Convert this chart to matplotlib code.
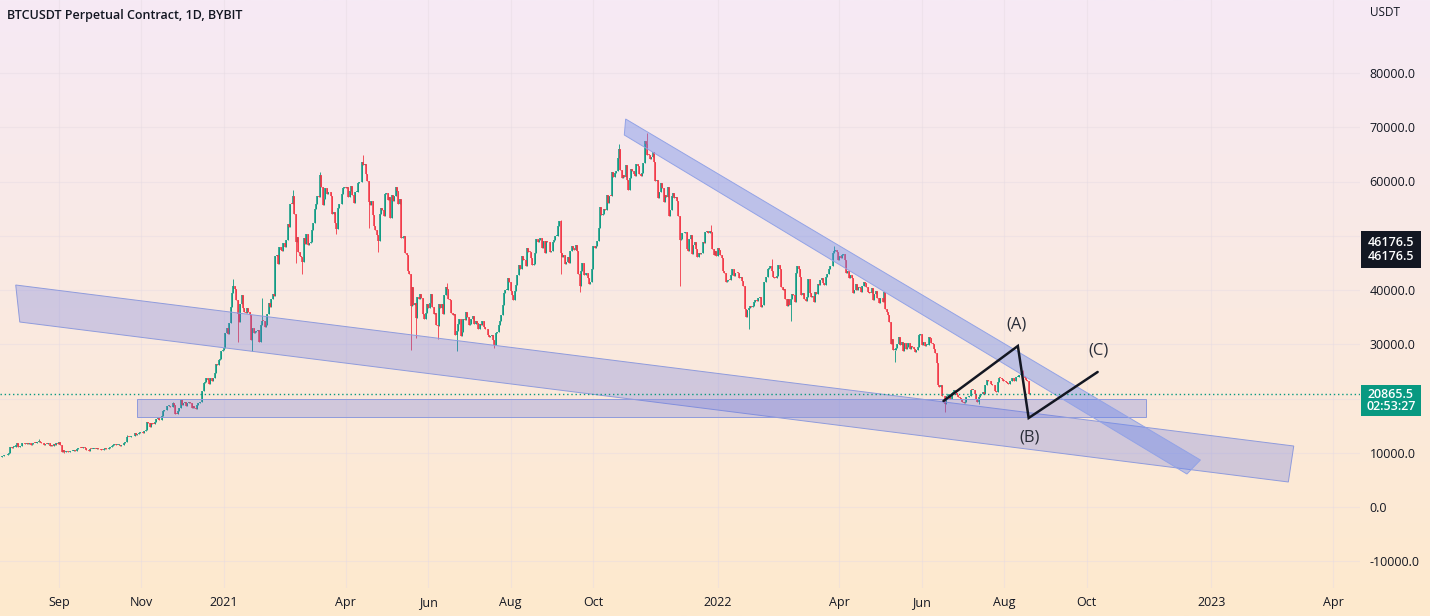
import numpy as np
import pandas as pd
import matplotlib
matplotlib.use("Agg")
import matplotlib.pyplot as plt
import matplotlib.dates as mdates
from matplotlib.patches import Polygon, Rectangle

plt.rcParams['font.family'] = ['Open Sans', 'DejaVu Sans']

# daily closes, thousands of USDT
c2020_07 = [9.21, 9.16, 9.39, 9.54, 9.61, 9.55, 9.71, 9.93, 11.03, 10.91, 11.10, 11.11, 11.35]
c2020_08 = [11.80, 11.07, 11.23, 11.19, 11.74, 11.76, 11.60, 11.75, 11.68, 11.88,
            11.41, 11.58, 11.78, 11.77, 11.87, 11.91, 12.25, 11.99, 11.74, 11.86,
            11.52, 11.66, 11.65, 11.75, 11.32, 11.46, 11.32, 11.54, 11.51, 11.71, 11.68]
c2020_09 = [11.92, 11.40, 10.17, 10.47, 10.17, 10.25, 10.37, 10.13, 10.24, 10.36,
            10.40, 10.44, 10.33, 10.68, 10.79, 10.95, 10.94, 10.93, 11.08, 10.92,
            10.42, 10.54, 10.24, 10.74, 10.69, 10.73, 10.77, 10.70, 10.84, 10.78]
c2020_10 = [10.62, 10.58, 10.55, 10.67, 10.79, 10.60, 10.67, 10.92, 11.06, 11.30,
            11.38, 11.54, 11.43, 11.43, 11.51, 11.32, 11.37, 11.50, 11.75, 11.92,
            12.82, 12.97, 12.93, 13.12, 13.04, 13.07, 13.65, 13.27, 13.46, 13.56, 13.80]
c2020_11 = [13.74, 13.55, 14.03, 14.15, 15.59, 15.57, 14.83, 15.48, 15.33, 15.30,
            15.70, 16.28, 16.33, 16.07, 15.96, 16.72, 17.67, 17.80, 17.82, 18.68,
            18.69, 18.42, 18.37, 19.16, 18.72, 17.15, 17.14, 17.72, 18.18, 19.70]
c2020_12 = [18.79, 19.22, 19.44, 18.65, 19.15, 19.36, 19.17, 18.32, 18.55, 18.26,
            18.04, 18.81, 19.17, 19.27, 19.43, 21.36, 22.80, 23.11, 23.82, 23.46,
            22.72, 23.82, 23.24, 23.73, 24.71, 26.44, 26.25, 27.04, 27.36, 28.84, 29.00]
c2021_01 = [29.37, 32.13, 33.00, 31.97, 33.98, 36.82, 39.37, 40.67, 40.24, 38.24,
            35.54, 34.01, 37.39, 39.15, 36.77, 36.01, 35.79, 36.63, 35.91, 35.47,
            30.83, 33.01, 32.08, 32.26, 32.37, 32.57, 30.43, 33.47, 34.32, 34.27, 33.11]
c2021_02 = [33.52, 35.51, 37.62, 36.94, 38.29, 39.26, 38.90, 46.20, 46.48, 44.84,
            47.97, 47.41, 47.19, 48.58, 47.91, 49.13, 52.12, 51.55, 55.91, 55.84,
            57.41, 54.09, 48.89, 49.68, 47.06, 46.28, 46.11, 45.14]
c2021_03 = [49.59, 48.44, 50.35, 48.37, 48.75, 48.88, 50.97, 52.38, 54.88, 55.85,
            57.33, 57.22, 61.19, 59.00, 55.64, 56.82, 58.87, 57.65, 58.03, 58.10,
            57.35, 54.08, 54.34, 52.30, 51.32, 55.03, 55.84, 55.78, 57.63, 58.73, 58.92]
c2021_04 = [58.73, 58.93, 57.06, 58.21, 59.12, 57.60, 56.00, 58.09, 58.09, 59.77,
            60.00, 59.86, 63.58, 62.96, 63.22, 61.40, 60.06, 56.21, 55.72, 56.47,
            53.91, 51.76, 51.09, 50.05, 49.00, 54.02, 55.03, 54.82, 53.56, 57.75]
c2021_05 = [57.83, 56.63, 57.21, 53.24, 57.47, 56.43, 57.38, 58.93, 58.28, 55.86,
            56.76, 49.50, 49.72, 49.88, 46.76, 46.46, 43.54, 42.91, 36.96, 40.56,
            37.30, 37.54, 34.77, 38.71, 38.39, 39.29, 38.56, 35.66, 34.61, 35.68, 37.34]
c2021_06 = [36.69, 37.58, 39.19, 36.85, 35.52, 35.80, 33.55, 33.40, 37.39, 36.69,
            37.34, 35.55, 39.02, 40.52, 40.14, 38.35, 38.09, 35.82, 35.48, 35.60,
            31.68, 32.51, 33.68, 34.66, 31.59, 32.28, 34.70, 34.49, 35.91, 35.04]
c2021_07 = [33.57, 33.80, 34.67, 35.29, 33.69, 34.22, 33.86, 32.88, 33.81, 33.52,
            34.26, 33.09, 32.73, 32.82, 31.78, 31.42, 31.52, 31.78, 30.82, 29.79,
            32.11, 32.31, 33.58, 34.29, 35.38, 37.27, 39.46, 40.01, 40.02, 42.24, 41.46]
c2021_08 = [39.85, 39.15, 38.15, 39.75, 40.87, 42.84, 44.61, 43.80, 46.28, 45.58,
            45.51, 44.43, 47.79, 47.08, 47.01, 45.92, 44.69, 44.74, 46.76, 49.34,
            48.87, 49.28, 49.51, 47.71, 48.99, 46.85, 49.07, 48.90, 48.81, 47.02, 47.13]
c2021_09 = [48.85, 49.29, 49.93, 49.94, 51.77, 52.66, 46.86, 46.07, 46.37, 44.85,
            45.17, 46.03, 44.95, 47.11, 48.14, 47.76, 47.30, 48.31, 47.26, 42.99,
            40.69, 43.57, 44.89, 42.84, 42.72, 43.21, 42.24, 41.03, 41.52, 43.79]
c2021_10 = [48.12, 47.71, 48.20, 49.11, 51.51, 55.36, 53.80, 53.97, 54.95, 54.66,
            57.47, 56.01, 57.37, 57.35, 61.67, 60.88, 61.53, 62.01, 64.28, 66.00,
            62.21, 60.69, 61.29, 60.86, 63.08, 60.33, 58.46, 60.59, 62.25, 61.88, 61.32]
c2021_11 = [61.00, 63.23, 62.94, 61.43, 61.00, 61.53, 63.33, 67.55, 66.97, 64.95,
            64.91, 64.16, 64.47, 65.47, 63.56, 60.09, 60.36, 56.94, 58.12, 59.70,
            58.73, 56.29, 57.57, 57.16, 58.96, 53.73, 54.74, 57.27, 57.81, 56.95]
c2021_12 = [57.18, 56.48, 53.60, 49.15, 49.40, 50.58, 50.47, 50.64, 47.59, 47.14,
            49.39, 50.05, 46.70, 48.34, 48.86, 47.63, 46.13, 46.83, 46.68, 46.91,
            48.93, 48.63, 50.78, 50.82, 50.43, 50.80, 50.64, 47.59, 46.46, 47.12, 46.22]
c2022_01 = [47.72, 47.29, 46.44, 45.83, 43.43, 43.08, 41.55, 41.67, 41.86, 41.82,
            42.74, 43.92, 42.59, 43.10, 43.18, 43.11, 42.25, 42.38, 41.69, 40.68,
            36.46, 35.03, 36.28, 36.65, 36.96, 36.84, 37.14, 37.71, 38.17, 37.92, 38.48]
c2022_02 = [38.74, 36.95, 37.15, 41.50, 41.44, 42.41, 43.84, 44.12, 44.34, 43.57,
            42.41, 42.24, 42.20, 42.59, 44.58, 43.96, 40.55, 40.03, 40.13, 38.39,
            37.02, 38.29, 37.29, 38.36, 39.25, 39.12, 37.71, 43.19]
c2022_03 = [44.42, 43.92, 42.45, 39.15, 39.40, 38.42, 37.99, 38.74, 41.98, 39.44,
            38.73, 38.81, 37.79, 39.67, 39.28, 41.11, 40.92, 41.76, 42.21, 41.26,
            41.00, 42.36, 42.89, 43.96, 44.35, 44.50, 46.82, 47.13, 47.43, 47.06, 45.54]
c2022_04 = [46.28, 45.81, 46.41, 46.62, 45.50, 43.17, 43.44, 42.25, 42.75, 42.16,
            39.53, 40.07, 41.15, 39.94, 40.55, 40.38, 39.68, 40.80, 41.50, 41.37,
            40.48, 39.71, 39.46, 39.45, 40.43, 38.12, 39.24, 39.74, 38.60, 37.63]
c2022_05 = [38.47, 38.52, 37.72, 39.69, 36.55, 36.01, 35.47, 34.04, 30.08, 31.02,
            28.94, 29.03, 29.28, 30.08, 31.31, 29.86, 30.43, 28.70, 30.31, 29.20,
            29.43, 30.29, 29.10, 29.65, 29.54, 29.20, 28.63, 29.03, 29.47, 31.73, 31.80]
c2022_06 = [29.80, 30.45, 29.70, 29.86, 29.91, 31.37, 31.13, 30.19, 30.11, 29.08,
            28.42, 26.57, 22.49, 22.21, 22.58, 20.38, 20.47, 19.02, 20.55, 20.70,
            20.71, 19.97, 21.10, 21.22, 21.49, 21.04, 20.73, 20.28, 20.10, 19.78]
c2022_07 = [19.30, 19.25, 19.30, 20.22, 20.19, 20.55, 21.63, 21.59, 21.60, 20.85,
            19.96, 19.32, 20.21, 20.58, 20.83, 21.19, 20.78, 22.43, 23.40, 23.24,
            23.16, 22.68, 22.45, 22.58, 21.31, 21.25, 22.95, 23.84, 23.78, 23.63, 23.30]
c2022_08 = [23.27, 22.99, 22.82, 22.62, 23.31, 23.18, 23.81, 23.16, 23.16, 23.95,
            23.96, 24.40, 24.44, 24.31, 24.10, 23.85, 23.34, 23.19, 20.83, 20.8655]

months = [("2020-07-19", c2020_07), ("2020-08-01", c2020_08), ("2020-09-01", c2020_09),
          ("2020-10-01", c2020_10), ("2020-11-01", c2020_11), ("2020-12-01", c2020_12),
          ("2021-01-01", c2021_01), ("2021-02-01", c2021_02), ("2021-03-01", c2021_03),
          ("2021-04-01", c2021_04), ("2021-05-01", c2021_05), ("2021-06-01", c2021_06),
          ("2021-07-01", c2021_07), ("2021-08-01", c2021_08), ("2021-09-01", c2021_09),
          ("2021-10-01", c2021_10), ("2021-11-01", c2021_11), ("2021-12-01", c2021_12),
          ("2022-01-01", c2022_01), ("2022-02-01", c2022_02), ("2022-03-01", c2022_03),
          ("2022-04-01", c2022_04), ("2022-05-01", c2022_05), ("2022-06-01", c2022_06),
          ("2022-07-01", c2022_07), ("2022-08-01", c2022_08)]
first_open = 9.18

# the long wicks that stand out on the chart (thousands)
high_wicks = [("2020-08-17", 12.47), ("2020-09-01", 12.07), ("2020-10-21", 13.22),
              ("2020-11-24", 19.42), ("2020-12-01", 19.92), ("2021-01-08", 41.95),
              ("2021-01-29", 38.5), ("2021-02-21", 58.35), ("2021-03-13", 61.7),
              ("2021-04-14", 64.85), ("2021-06-15", 41.3), ("2021-09-07", 52.9),
              ("2021-10-20", 67.0), ("2021-11-10", 69.0), ("2021-12-27", 52.0),
              ("2022-02-10", 45.8), ("2022-03-28", 48.2), ("2022-08-15", 25.2)]
low_wicks = [("2020-09-05", 9.87), ("2021-01-11", 30.4), ("2021-01-22", 28.8),
             ("2021-02-23", 45.0), ("2021-02-28", 43.0), ("2021-03-25", 50.4),
             ("2021-04-18", 51.5), ("2021-04-25", 47.0), ("2021-05-19", 29.0),
             ("2021-05-23", 31.1), ("2021-06-08", 31.0), ("2021-06-22", 28.8),
             ("2021-07-20", 29.3), ("2021-09-07", 43.0), ("2021-09-21", 39.6),
             ("2021-12-04", 40.8), ("2022-01-24", 32.9), ("2022-02-24", 34.3),
             ("2022-05-12", 26.7), ("2022-06-18", 17.6), ("2022-07-13", 18.9)]

# drawings (date, price)
lower_band = [("2020-07-31", 40920), ("2023-03-03", 11240), ("2023-02-27", 4610), ("2020-08-03", 34100)]
upper_band = [("2021-10-25", 71520), ("2022-12-24", 8660), ("2022-12-14", 6080), ("2021-10-24", 68570)]
support_box = [("2020-10-29", 16590), ("2022-11-14", 19910)]
wave_dates = ["2022-06-17", "2022-08-11", "2022-08-19", "2022-10-09"]
wave_prices = [19540, 29680, 16410, 24890]
wave_labels = ["(A)", "(B)", "(C)"]
label_dates = ["2022-08-10", "2022-08-20", "2022-10-10"]
label_prices = [33550, 12720, 28760]

last_price = 20865.5
tag_price = 46176.5
countdown = "02:53:27"

x_ticks = ["2020-09-01", "2020-11-01", "2021-01-01", "2021-04-01", "2021-06-01", "2021-08-01",
           "2021-10-01", "2022-01-01", "2022-04-01", "2022-06-01", "2022-08-01", "2022-10-01",
           "2023-01-01", "2023-04-01"]
x_labels = ["Sep", "Nov", "2021", "Apr", "Jun", "Aug", "Oct", "2022", "Apr", "Jun", "Aug", "Oct",
            "2023", "Apr"]
y_ticks = list(range(-10000, 80001, 10000))
hidden_y = [20000, 50000]   # covered by the price tags

GREEN = "#089981"
RED = "#f23645"
TXT = "#131722"

# build candles
dates, closes = [], []
for start, vals in months:
    dates += list(pd.date_range(start, periods=len(vals), freq="D"))
    closes += vals
xd = mdates.date2num(dates)
c = np.array(closes) * 1000
o = np.r_[first_open * 1000, c[:-1]]
hi = np.maximum(o, c)
lo = np.minimum(o, c)
pos = {d.strftime("%Y-%m-%d"): i for i, d in enumerate(dates)}
for d, v in high_wicks:
    hi[pos[d]] = max(hi[pos[d]], v * 1000)
for d, v in low_wicks:
    lo[pos[d]] = min(lo[pos[d]], v * 1000)

W, H = 1430, 616
fig = plt.figure(figsize=(W / 100, H / 100), dpi=100)

# gradient background
bg = fig.add_axes([0, 0, 1, 1], zorder=-10)
top = np.array([246, 234, 245]) / 255
bot = np.array([254, 233, 205]) / 255
t = np.linspace(0, 1, 256)[:, None, None]
bg.imshow(top * (1 - t) + bot * t, aspect="auto", extent=[0, 1, 0, 1])
bg.axis("off")

ax = fig.add_axes([0, 28 / H, 1360 / W, 588 / H])
ax.patch.set_alpha(0)
x0 = mdates.date2num(pd.Timestamp("2020-09-01")) - 59 / 1.3524
ax.set_xlim(x0, x0 + 1360 / 1.3524)
ax.set_ylim((507 - 588) / 0.005425, 507 / 0.005425)
for s in ax.spines.values():
    s.set_visible(False)

ax.set_xticks(mdates.date2num(pd.to_datetime(x_ticks)))
ax.set_xticklabels(x_labels)
ax.yaxis.tick_right()
ax.set_yticks(y_ticks)
ax.set_yticklabels(["" if v in hidden_y else f"{v:.1f}" for v in y_ticks])
ax.tick_params(length=0, labelsize=9, colors=TXT)
ax.tick_params(axis="x", pad=6)
ax.tick_params(axis="y", pad=7)
ax.grid(color="#e6dbe3", lw=0.8, alpha=0.45)
ax.set_axisbelow(True)

# candles
up = c >= o
for m, col in [(up, GREEN), (~up, RED)]:
    ax.vlines(xd[m], lo[m], hi[m], color=col, lw=0.6, zorder=2)
    b0 = np.minimum(o[m], c[m])
    b1 = np.maximum(np.maximum(o[m], c[m]), b0 + 120)
    ax.vlines(xd[m], b0, b1, color=col, lw=1.1, zorder=2)

def poly(pts, **kw):
    xy = [(mdates.date2num(pd.Timestamp(d)), p) for d, p in pts]
    ax.add_patch(Polygon(xy, closed=True, **kw))

poly(lower_band, facecolor=(0.38, 0.44, 0.88, 0.28), edgecolor="#8f9bdc", lw=0.7, zorder=3)
sx0, sx1 = [mdates.date2num(pd.Timestamp(d)) for d, _ in support_box]
ax.add_patch(Rectangle((sx0, support_box[0][1]), sx1 - sx0, support_box[1][1] - support_box[0][1],
                       facecolor=(0.38, 0.44, 0.88, 0.28), edgecolor="#8f9bdc", lw=0.7, zorder=3))
poly(upper_band, facecolor=(0.40, 0.52, 0.93, 0.40), edgecolor="#93a3e6", lw=0.7, zorder=3)

# last price line
ax.axhline(last_price, color=GREEN, lw=1, ls=(0, (1, 2)), zorder=4)

# wave
ax.plot(mdates.date2num(pd.to_datetime(wave_dates)), wave_prices, color=TXT, lw=1.8, zorder=5,
        solid_capstyle="round", solid_joinstyle="miter")
for lab, d, p in zip(wave_labels, label_dates, label_prices):
    ax.text(mdates.date2num(pd.Timestamp(d)), p, lab, fontsize=12, color="#2a2e39",
            ha="center", va="center", zorder=6)

# price tags on the scale
def tag(price, text, color, below, above, spacing):
    ypix = ax.transData.transform((0, price))[1]
    fig.add_artist(Rectangle((1361, ypix - below), 60, below + above, transform=None,
                             facecolor=color, edgecolor="none", zorder=20))
    fig.text(1391 / W, (ypix + (above - below) / 2) / H, text, color="white", fontsize=9,
             weight="semibold", ha="center", va="center", linespacing=spacing, zorder=21)

tag(tag_price, f"{tag_price:.1f}\n{tag_price:.1f}", TXT, 11.5, 25.5, 1.1)
tag(last_price, f"{last_price:.1f}\n{countdown}", GREEN, 22.2, 8.8, 0.95)

fig.text(7 / W, 1 - 16 / H, "BTCUSDT Perpetual Contract, 1D, BYBIT", fontsize=9, weight="semibold",
         color=TXT, va="center", ha="left")
fig.text(1370 / W, 1 - 13 / H, "USDT", fontsize=8.5, color=TXT, va="center", ha="left")

fig.savefig("out.png", dpi=100)
